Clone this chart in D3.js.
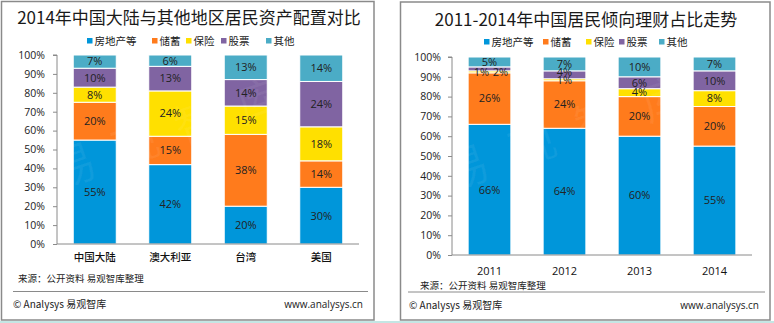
<!DOCTYPE html>
<html><head><meta charset="utf-8">
<script src="https://cdn.jsdelivr.net/npm/d3@7"></script>
<style>
html,body{margin:0;padding:0;background:#fff;}
svg{display:block;}
text{font-family:"Open Sans","Noto Sans CJK SC",sans-serif;}
.cjk{font-family:"Noto Sans CJK SC","Open Sans",sans-serif;}
</style></head>
<body>
<svg id="c" width="774" height="323"></svg>
<script>
// ---------- data ----------
const seriesNames = ["房地产等","储蓄","保险","股票","其他"];
// left chart: 2014 by region
const regions = ["中国大陆","澳大利亚","台湾","美国"];
const realEstate2014 = [55,42,20,30];
const savings2014    = [20,15,38,14];
const insurance2014  = [8,24,15,18];
const stocks2014     = [10,13,14,24];
const other2014      = [7,6,13,14];
// right chart: China 2011-2014
const years = ["2011","2012","2013","2014"];
const realEstateCN = [66,64,60,55];
const savingsCN    = [26,24,20,20];
const insuranceCN  = [1,1,4,8];
const stocksCN     = [2,4,6,10];
const otherCN      = [5,7,10,7];
const yTickValues = [0,10,20,30,40,50,60,70,80,90,100];

const leftTitle = "2014年中国大陆与其他地区居民资产配置对比";
const rightTitle = "2011-2014年中国居民倾向理财占比走势";
const sourceText = "来源：公开资料 易观智库整理";
const brandText = "© Analysys 易观智库";
const urlText = "www.analysys.cn";
const watermark = "易观智库";

// ---------- style ----------
const colors = ["#0096DA","#FF7B1C","#FFE000","#8064A2","#4BACC6"];
const svg = d3.select("#c");

// bottom strip
svg.append("rect").attr("x",0).attr("y",321).attr("width",774).attr("height",2).attr("fill","#c4e6e4");

function buildRows(cats, arrs){
  return cats.map((c,i)=>{
    const o={cat:c};
    seriesNames.forEach((s,k)=>o[s]=arrs[k][i]);
    return o;
  });
}

function panel(cfg){
  const g = svg.append("g");
  g.append("rect").attr("x",cfg.box[0]).attr("y",cfg.box[1]).attr("width",cfg.box[2]).attr("height",cfg.box[3])
    .attr("fill","#fff").attr("stroke","#8a8a8a").attr("stroke-width",1.5);
  g.append("text").attr("class","cjk").attr("x",cfg.titleX).attr("y",cfg.titleY).attr("text-anchor","middle")
    .attr("font-size",17).attr("fill","#1a1a1a").text(cfg.title);
  seriesNames.forEach((s,i)=>{
    const lx = cfg.legendX[i];
    g.append("rect").attr("x",lx).attr("y",cfg.legendY-3).attr("width",5.5).attr("height",5.5).attr("fill",colors[i]);
    g.append("text").attr("class","cjk").attr("x",lx+7.5).attr("y",cfg.legendY).attr("dy","0.35em")
      .attr("font-size",10.5).attr("fill","#222").text(s);
  });

  const rows = buildRows(cfg.cats, cfg.arrs);
  const x = d3.scaleBand().domain(cfg.cats).range(cfg.xRange).paddingInner(0.43).paddingOuter(0.215);
  const y = d3.scaleLinear().domain([0,100]).range(cfg.yRange);
  const stack = d3.stack().keys(seriesNames)(rows);

  const bars = g.append("g");
  stack.forEach((layer,k)=>{
    bars.selectAll(null).data(layer).enter().append("rect")
      .attr("x",d=>x(d.data.cat)).attr("width",x.bandwidth())
      .attr("y",d=>y(d[1])).attr("height",d=>y(d[0])-y(d[1]))
      .attr("fill",colors[k]).attr("stroke","#fff").attr("stroke-width",1);
  });

  // watermark (very faint)
  const wm = g.append("g").attr("transform",`translate(${cfg.wm[0]},${cfg.wm[1]}) rotate(-19)`);
  wm.selectAll(null).data(watermark.split("")).enter().append("text").attr("class","cjk")
    .attr("x",(d,i)=>i*cfg.wm[2]).attr("y",0).attr("dy","0.35em").attr("text-anchor","middle")
    .attr("font-size",46).attr("fill","#ffffff").attr("fill-opacity",0.06)
    .attr("stroke","#000").attr("stroke-opacity",0.025).attr("stroke-width",1).text(d=>d);

  const lab = g.append("g");
  stack.forEach((layer,k)=>{
    layer.forEach(d=>{
      const key = d.data.cat+"|"+seriesNames[k];
      const n = cfg.nudge[key]||[0,0];
      lab.append("text").attr("x",x(d.data.cat)+x.bandwidth()/2+n[0])
        .attr("y",y((d[0]+d[1])/2)+n[1]).attr("dy","0.35em").attr("text-anchor","middle")
        .attr("font-size",11).attr("fill","#222").text((d[1]-d[0])+"%");
    });
  });

  const yAxis = d3.axisLeft(y).tickValues(yTickValues).tickFormat(d=>d+"%").tickSize(4).tickPadding(cfg.tickPad);
  const ya = g.append("g").attr("transform",`translate(${cfg.xRange[0]},0)`).call(yAxis);
  ya.select(".domain").attr("stroke","#8a8a8a").attr("d",`M-4,${cfg.yRange[1]}H0V${cfg.yRange[0]}`);
  ya.selectAll(".tick line").attr("stroke","#8a8a8a");
  ya.selectAll(".tick text").attr("font-size",10.5).attr("fill","#222").attr("font-family","Open Sans");

  const xAxis = d3.axisBottom(x).tickSize(0).tickPadding(cfg.xPad);
  const xa = g.append("g").attr("transform",`translate(0,${cfg.yRange[0]})`).call(xAxis);
  xa.select(".domain").attr("stroke","#8a8a8a").attr("d",`M${cfg.xRange[0]},0H${cfg.xRange[1]}`);
  xa.selectAll(".tick text").attr("font-size",cfg.xFont).attr("fill","#111")
    .attr("font-family",cfg.xFam).attr("font-weight",cfg.xWeight);

  g.append("text").attr("class","cjk").attr("x",cfg.srcX).attr("y",cfg.srcY).attr("dy","0.35em")
    .attr("font-size",9.5).attr("fill","#222").text(sourceText);
  g.append("line").attr("x1",cfg.sep[0]).attr("x2",cfg.sep[1]).attr("y1",cfg.sep[2]).attr("y2",cfg.sep[2])
    .attr("stroke","#8a8a8a").attr("stroke-width",1);
  g.append("text").attr("class","cjk").attr("x",cfg.foot[0]).attr("y",cfg.foot[2]).attr("dy","0.35em")
    .attr("font-size",10).attr("fill","#222").text(brandText);
  g.append("text").attr("x",cfg.foot[1]).attr("y",cfg.foot[2]).attr("dy","0.35em").attr("text-anchor","end")
    .attr("font-size",10).attr("fill","#222").text(urlText);
}

panel({
  box:[1.5,1.5,372.5,318.5], title:leftTitle, titleX:189, titleY:24,
  legendX:[87,152,186,221,266], legendY:41,
  cats:regions, arrs:[realEstate2014,savings2014,insurance2014,stocks2014,other2014],
  xRange:[57,359], yRange:[244,55], tickPad:8, xPad:10, xFont:10.5, xFam:"Noto Sans CJK SC", xWeight:500,
  wm:[73,166,66], nudge:{},
  srcX:18, srcY:279, sep:[13,368,291.5], foot:[13,363,304]
});

panel({
  box:[400.5,2,369.5,318], title:rightTitle, titleX:586, titleY:25.5,
  legendX:[484,543,586,619,659], legendY:42,
  cats:years, arrs:[realEstateCN,savingsCN,insuranceCN,stocksCN,otherCN],
  xRange:[452,752], yRange:[255,57], tickPad:7, xPad:12, xFont:11, xFam:"Open Sans", xWeight:"normal",
  wm:[466,168,70],
  nudge:{"2011|保险":[-8,0],"2011|股票":[11,3],"2012|股票":[0,-3]},
  srcX:420, srcY:286, sep:[408,765,292], foot:[409,759,305]
});
</script>
</body></html>
